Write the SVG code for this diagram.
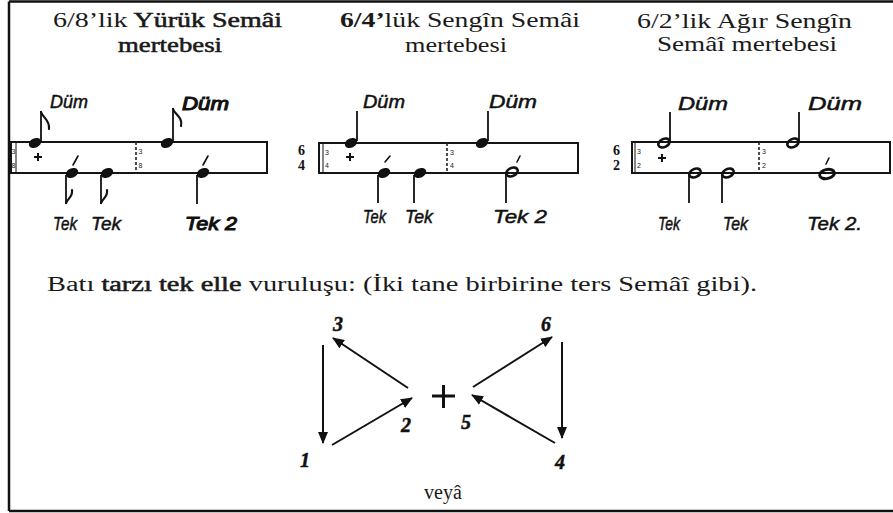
<svg xmlns="http://www.w3.org/2000/svg" xmlns:xlink="http://www.w3.org/1999/xlink" width="893" height="513" viewBox="0 0 893 513">
  <style>
    .frame { stroke: #111; stroke-width: 2.5; fill: none; }
    .staff { fill: none; stroke: #151515; stroke-width: 2; }
    .bar { stroke: #222; stroke-width: 1.6; stroke-dasharray: 3 2; }
    .stem { stroke: #111; stroke-width: 1.8; fill: none; }
    .flag { stroke: #111; stroke-width: 2.2; fill: none; stroke-linecap: round; }
    .acc { stroke: #111; stroke-width: 1.6; stroke-linecap: round; }
    .head { fill: #111; }
    .hollow { fill: none; stroke: #111; stroke-width: 2.6; }
    .title { font-family: "Liberation Serif", "DejaVu Serif", serif; font-size: 20px; fill: #1a1a1a; }
    .dark { stroke: #1a1a1a; stroke-width: 0.5; }
    .b { font-weight: bold; }
    .hand { font-family: "Liberation Sans", "DejaVu Sans", sans-serif; font-style: italic; font-size: 19px; fill: #111; stroke: #111; stroke-width: 0.5; }
    .heavy { stroke-width: 1.1; }
    .sig { font-family: "Liberation Serif", serif; font-weight: bold; font-size: 14px; fill: #111; }
    .tiny { font-family: "Liberation Sans", sans-serif; font-size: 7px; fill: #222; }
    .plus { stroke: #111; stroke-width: 2; }
    .num { font-family: "Liberation Serif", "DejaVu Serif", serif; font-style: italic; font-weight: bold; font-size: 20px; fill: #111; stroke: #111; stroke-width: 0.5; }
    .arrow { stroke: #111; stroke-width: 2; fill: none; marker-end: url(#ah); }
  </style>
  <defs>
    <ellipse id="nh" class="head" cx="0" cy="0" rx="6.5" ry="4.6" transform="rotate(-25)"/>
    <ellipse id="hh" class="hollow" cx="0" cy="0" rx="6" ry="4" transform="rotate(-25)"/>
    <marker id="ah" viewBox="0 0 12 10" refX="11" refY="5" markerWidth="12" markerHeight="10" markerUnits="userSpaceOnUse" orient="auto">
      <path d="M0,0 L12,5 L0,10 Z" fill="#111"/>
    </marker>
  </defs>

  <rect width="893" height="513" fill="#fff"/>
  <!-- page frame: top, left and bottom rules -->
  <path class="frame" d="M9,1.5 H893 M9,1.5 V511 M9,511 H893"/>

  <!-- ===== 6/8 Yürük Semâi ===== -->
  <g id="title-yuruk">
    <text class="title" x="53" y="27" textLength="229" lengthAdjust="spacingAndGlyphs">6/8’lik <tspan class="dark">Yürük Semâi</tspan></text>
    <text class="title dark" x="118" y="52" textLength="104" lengthAdjust="spacingAndGlyphs">mertebesi</text>
  </g>
  <g id="staff-yuruk">
    <rect class="staff" x="11" y="142" width="256" height="31"/>
    <line x1="16" y1="142" x2="16" y2="173" stroke="#111" stroke-width="1"/>
    <text class="tiny" x="11.5" y="154">3</text>
    <text class="tiny" x="11.5" y="168">8</text>
    <line class="bar" x1="136" y1="142" x2="136" y2="173"/>
    <text class="tiny" x="138.5" y="154">3</text>
    <text class="tiny" x="138.5" y="168">8</text>
    <!-- Düm 1 -->
    <use href="#nh" x="35" y="143"/>
    <line class="stem" x1="41" y1="141" x2="41" y2="111"/>
    <path class="flag" d="M41,112 C43,118 50,120 49,129"/>
    <path class="plus" d="M34,157 H42 M38,153 V161"/>
    <!-- Tek, Tek -->
    <use href="#nh" x="72" y="173"/>
    <line class="stem" x1="66" y1="175" x2="66" y2="204"/>
    <path class="flag" d="M66,203 C68,198 73,197 72,190"/>
    <line class="acc" x1="73" y1="165" x2="78" y2="156"/>
    <use href="#nh" x="107" y="173"/>
    <line class="stem" x1="101" y1="175" x2="101" y2="204"/>
    <path class="flag" d="M101,203 C103,198 108,197 107,190"/>
    <!-- Düm 2 -->
    <use href="#nh" x="167" y="143"/>
    <line class="stem" x1="173" y1="141" x2="173" y2="108"/>
    <path class="flag" d="M173,109 C175,115 183,117 181,126"/>
    <!-- Tek 2 -->
    <use href="#nh" x="203" y="173"/>
    <line class="stem" x1="197" y1="175" x2="197" y2="204"/>
    <line class="acc" x1="203" y1="165" x2="208" y2="156"/>
    <text class="hand" x="50" y="108" textLength="38" lengthAdjust="spacingAndGlyphs">Düm</text>
    <text class="hand heavy" x="182" y="110" textLength="47" lengthAdjust="spacingAndGlyphs">Düm</text>
    <text class="hand" x="53" y="230" textLength="24" lengthAdjust="spacingAndGlyphs">Tek</text>
    <text class="hand" x="91" y="230" textLength="30" lengthAdjust="spacingAndGlyphs">Tek</text>
    <text class="hand heavy" x="185" y="230" textLength="52" lengthAdjust="spacingAndGlyphs">Tek 2</text>
  </g>

  <!-- ===== 6/4 Sengîn Semâi ===== -->
  <g id="title-sengin">
    <text class="title" x="340" y="27" textLength="240" lengthAdjust="spacingAndGlyphs"><tspan class="b">6/4’</tspan>lük Sengîn Semâi</text>
    <text class="title" x="405" y="52" textLength="102" lengthAdjust="spacingAndGlyphs">mertebesi</text>
  </g>
  <g id="staff-sengin">
    <text class="sig" x="298" y="155">6</text>
    <text class="sig" x="298" y="170">4</text>
    <rect class="staff" x="319" y="143" width="259" height="30"/>
    <line x1="323" y1="143" x2="323" y2="173" stroke="#111" stroke-width="1"/>
    <text class="tiny" x="325" y="155">3</text>
    <text class="tiny" x="325" y="168">4</text>
    <line class="bar" x1="447" y1="143" x2="447" y2="173"/>
    <text class="tiny" x="450" y="155">3</text>
    <text class="tiny" x="450" y="168">4</text>
    <!-- Düm 1 -->
    <use href="#nh" x="351" y="143"/>
    <line class="stem" x1="357" y1="141" x2="357" y2="111"/>
    <path class="plus" d="M346,157 H354 M350,153 V161"/>
    <!-- Tek, Tek -->
    <use href="#nh" x="384" y="173"/>
    <line class="stem" x1="378" y1="175" x2="378" y2="203"/>
    <line class="acc" x1="385" y1="162" x2="390" y2="156"/>
    <use href="#nh" x="420" y="173"/>
    <line class="stem" x1="414" y1="175" x2="414" y2="203"/>
    <!-- Düm 2 -->
    <use href="#nh" x="482" y="143"/>
    <line class="stem" x1="488" y1="141" x2="488" y2="111"/>
    <!-- Tek 2 (half note) -->
    <use href="#hh" x="512" y="172"/>
    <line class="stem" x1="506" y1="174" x2="506" y2="203"/>
    <line class="acc" x1="517" y1="162" x2="520" y2="156"/>
    <text class="hand" x="363" y="108" textLength="42" lengthAdjust="spacingAndGlyphs">Düm</text>
    <text class="hand" x="489" y="108" textLength="48" lengthAdjust="spacingAndGlyphs">Düm</text>
    <text class="hand" x="363" y="223" textLength="23" lengthAdjust="spacingAndGlyphs">Tek</text>
    <text class="hand" x="405" y="223" textLength="28" lengthAdjust="spacingAndGlyphs">Tek</text>
    <text class="hand" x="493" y="223" textLength="54" lengthAdjust="spacingAndGlyphs">Tek 2</text>
  </g>

  <!-- ===== 6/2 Ağır Sengîn Semâi ===== -->
  <g id="title-agir">
    <text class="title" x="637" y="28" textLength="215" lengthAdjust="spacingAndGlyphs">6/2’lik Ağır Sengîn</text>
    <text class="title" x="657" y="51" textLength="180" lengthAdjust="spacingAndGlyphs">Semâî mertebesi</text>
  </g>
  <g id="staff-agir">
    <text class="sig" x="613" y="155">6</text>
    <text class="sig" x="613" y="170">2</text>
    <rect class="staff" x="632" y="142" width="258" height="31"/>
    <line x1="635" y1="142" x2="635" y2="173" stroke="#111" stroke-width="1"/>
    <text class="tiny" x="637" y="154">3</text>
    <text class="tiny" x="637" y="168">2</text>
    <line class="bar" x1="759" y1="142" x2="759" y2="173"/>
    <text class="tiny" x="762" y="154">3</text>
    <text class="tiny" x="762" y="168">2</text>
    <!-- Düm 1 (half note) -->
    <use href="#hh" x="664" y="143"/>
    <line class="stem" x1="670" y1="141" x2="670" y2="112"/>
    <path class="plus" d="M658,158 H666 M662,154 V162"/>
    <!-- Tek, Tek (half notes) -->
    <use href="#hh" x="695" y="173"/>
    <line class="stem" x1="689" y1="175" x2="689" y2="203"/>
    <use href="#hh" x="728" y="173"/>
    <line class="stem" x1="722" y1="175" x2="722" y2="203"/>
    <!-- Düm 2 (half note) -->
    <use href="#hh" x="793" y="143"/>
    <line class="stem" x1="799" y1="141" x2="799" y2="112"/>
    <!-- Tek 2 (whole note) -->
    <ellipse cx="827" cy="174" rx="7.5" ry="4.5" transform="rotate(-12 827 174)" fill="none" stroke="#111" stroke-width="3"/>
    <line class="acc" x1="826" y1="164" x2="829" y2="158"/>
    <text class="hand" x="678" y="110" textLength="50" lengthAdjust="spacingAndGlyphs">Düm</text>
    <text class="hand" x="808" y="110" textLength="54" lengthAdjust="spacingAndGlyphs">Düm</text>
    <text class="hand" x="658" y="230" textLength="22" lengthAdjust="spacingAndGlyphs">Tek</text>
    <text class="hand" x="723" y="230" textLength="25" lengthAdjust="spacingAndGlyphs">Tek</text>
    <text class="hand" x="807" y="230" textLength="55" lengthAdjust="spacingAndGlyphs">Tek 2.</text>
  </g>

  <!-- caption line -->
  <g id="caption">
    <text class="title" x="47" y="291" textLength="710" lengthAdjust="spacingAndGlyphs" font-size="19">Batı <tspan class="dark">tarzı tek elle</tspan> vuruluşu: (İki tane birbirine ters Semâî gibi).</text>
  </g>

  <!-- stroke order figure -->
  <g id="beat-1"><text class="num" x="300" y="467">1</text></g>
  <g id="beat-2"><text class="num" x="401" y="432">2</text></g>
  <g id="beat-3"><text class="num" x="333" y="331">3</text></g>
  <g id="beat-4"><text class="num" x="555" y="469">4</text></g>
  <g id="beat-5"><text class="num" x="461" y="429">5</text></g>
  <g id="beat-6"><text class="num" x="541" y="331">6</text></g>
  <g id="center-plus"><path d="M432,396 H455 M443.5,385 V408" stroke="#111" stroke-width="3"/></g>

  <g id="connectors">
    <line class="arrow" x1="323" y1="345" x2="323" y2="443"/>
    <line class="arrow" x1="332" y1="445" x2="412" y2="398"/>
    <line class="arrow" x1="408" y1="388" x2="333" y2="338"/>
    <line class="arrow" x1="473" y1="387" x2="552" y2="337"/>
    <line class="arrow" x1="562" y1="342" x2="562" y2="438"/>
    <line class="arrow" x1="555" y1="443" x2="472" y2="395"/>
  </g>

  <g id="or-label">
    <text class="title" x="443" y="499" text-anchor="middle" font-size="18">veyâ</text>
  </g>
</svg>
